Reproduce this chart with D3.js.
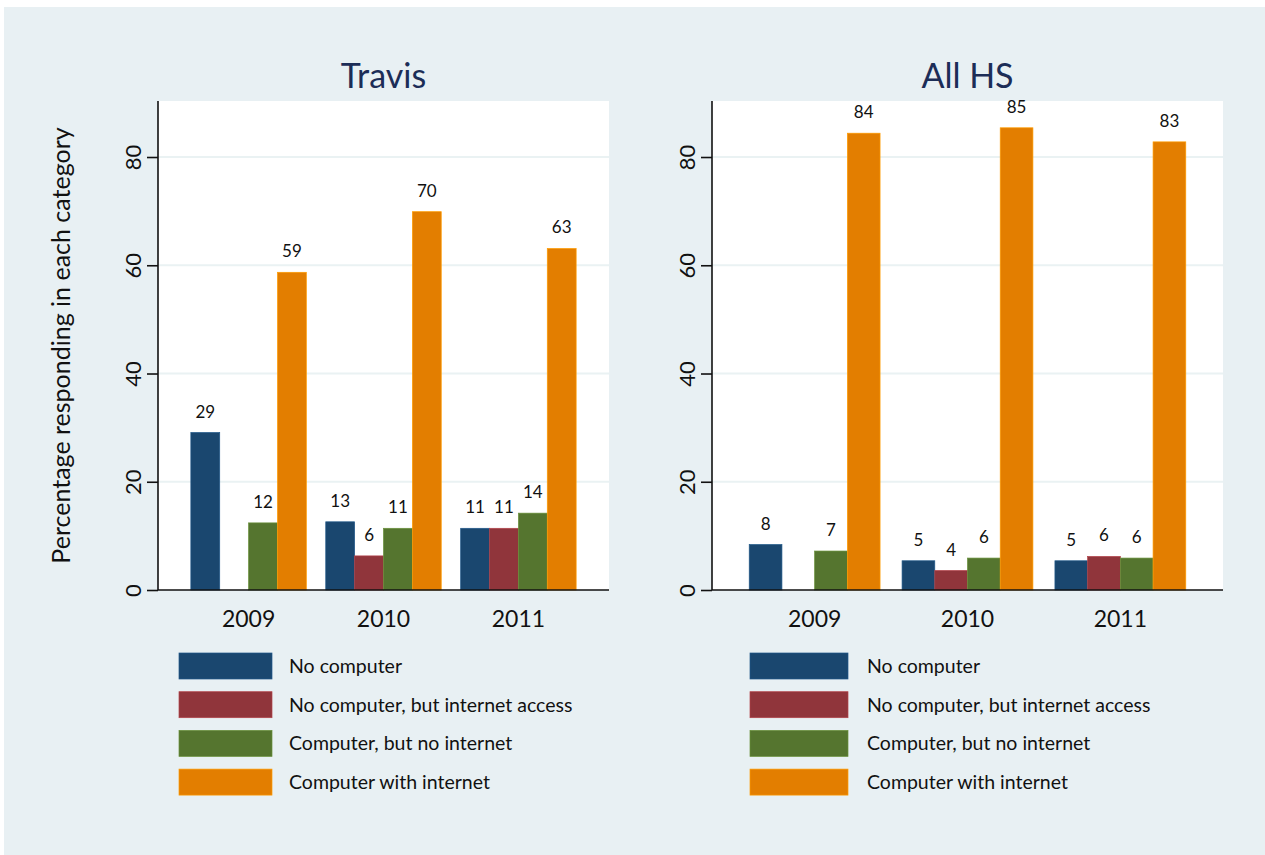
<!DOCTYPE html>
<head>
  <meta charset="utf-8">
  <style>
  body{
    margin:0;
    background:white;
  }
  svg text{
    font-family: Lato, "Open Sans", sans-serif;
  }
  </style>
</head>
<body>
  <svg width="1265" height="855"></svg>
  <script src="https://d3js.org/d3.v7.min.js"></script>
  <script>

  // values (percent)
  var years = ["2009", "2010", "2011"];
  var seriesNames = ["No computer", "No computer, but internet access", "Computer, but no internet", "Computer with internet"];
  var seriesColors = ["#1a476f", "#90353b", "#55752f", "#e37e00"];
  var yTicks = [0, 20, 40, 60, 80];

  var travisNoComp    = [29.1, 12.6, 11.4];
  var travisNoCompNet = [null, 6.3, 11.4];
  var travisCompNoNet = [12.4, 11.4, 14.2];
  var travisCompNet   = [58.7, 69.9, 63.1];

  var allNoComp    = [8.4, 5.4, 5.4];
  var allNoCompNet = [null, 3.6, 6.2];
  var allCompNoNet = [7.2, 5.9, 5.9];
  var allCompNet   = [84.4, 85.4, 82.8];

  var panels = [
    {title: "Travis", x0: 158, x1: 609, legendX: 179, legendW: 93, textX: 289, yTitle: true,
     values: [travisNoComp, travisNoCompNet, travisCompNoNet, travisCompNet]},
    {title: "All HS", x0: 712, x1: 1223, legendX: 750, legendW: 98, textX: 867, yTitle: false,
     values: [allNoComp, allNoCompNet, allCompNoNet, allCompNet]}
  ];

  var svg = d3.select("svg");

  svg.append("rect")
      .attr("x", 4).attr("y", 7)
      .attr("width", 1261).attr("height", 848)
      .attr("fill", "#e8f0f3");

  var y = d3.scaleLinear().domain([0, 90.35]).range([590, 101]);

  panels.forEach(function(p) {
    var g = svg.append("g");

    var x = d3.scaleBand()
        .domain(years)
        .range([p.x0, p.x1])
        .paddingInner(0.144)
        .paddingOuter(0.2435);

    var xs = d3.scaleBand()
        .domain(d3.range(seriesNames.length))
        .range([0, x.bandwidth()]);

    g.append("rect")
        .attr("x", p.x0).attr("y", y.range()[1])
        .attr("width", p.x1 - p.x0).attr("height", y.range()[0] - y.range()[1])
        .attr("fill", "white");

    g.selectAll(".grid")
      .data(yTicks.slice(1))
      .enter().append("line")
        .attr("x1", p.x0).attr("x2", p.x1)
        .attr("y1", function(d) { return y(d); })
        .attr("y2", function(d) { return y(d); })
        .attr("stroke", "#eaf2f3")
        .attr("stroke-width", 2);

    var cells = [];
    p.values.forEach(function(vals, s) {
      vals.forEach(function(v, i) {
        if (v !== null) cells.push({year: years[i], s: s, v: v});
      });
    });

    g.selectAll(".bar")
      .data(cells)
      .enter().append("rect")
        .attr("x", function(d) { return x(d.year) + xs(d.s); })
        .attr("y", function(d) { return y(d.v); })
        .attr("width", xs.bandwidth())
        .attr("height", function(d) { return y(0) - y(d.v); })
        .attr("fill", function(d) { return seriesColors[d.s]; })
        .attr("stroke", function(d) { return d3.color(seriesColors[d.s]).brighter(0.6); })
        .attr("stroke-width", 0.7);

    g.selectAll(".lbl")
      .data(cells)
      .enter().append("text")
        .attr("x", function(d) { return x(d.year) + xs(d.s) + xs.bandwidth() / 2; })
        .attr("y", function(d) { return y(d.v) - 15; })
        .attr("text-anchor", "middle")
        .attr("font-size", 17)
        .attr("fill", "#111")
        .text(function(d) { return Math.round(d.v); });

    // y axis
    var yAxis = g.append("g")
        .attr("transform", "translate(" + p.x0 + ",0)")
        .call(d3.axisLeft(y).tickValues(yTicks).tickSize(11).tickPadding(0).tickFormat(d3.format("d")));
    yAxis.select(".domain").attr("d", "M0," + y.range()[1] + "V" + y.range()[0]).attr("stroke", "#111").attr("stroke-width", 1.6);
    yAxis.selectAll(".tick line").attr("stroke", "#111").attr("stroke-width", 1.6);
    yAxis.selectAll(".tick text")
        .attr("transform", "translate(-25,0) rotate(-90)")
        .attr("x", 0).attr("y", 0)
        .attr("dy", "0.35em")
        .attr("text-anchor", "middle")
        .attr("font-size", 22)
        .attr("fill", "#111");

    // baseline
    g.append("line")
        .attr("x1", p.x0).attr("x2", p.x1)
        .attr("y1", y(0)).attr("y2", y(0))
        .attr("stroke", "#111").attr("stroke-width", 1.6);

    // year labels
    g.selectAll(".year")
      .data(years)
      .enter().append("text")
        .attr("x", function(d) { return x(d) + x.bandwidth() / 2; })
        .attr("y", 627)
        .attr("text-anchor", "middle")
        .attr("font-size", 23)
        .attr("fill", "#111")
        .text(function(d) { return d; });

    // title
    g.append("text")
        .attr("x", (p.x0 + p.x1) / 2)
        .attr("y", 88)
        .attr("text-anchor", "middle")
        .attr("font-size", 34)
        .attr("fill", "#1c2d57")
        .text(p.title);

    if (p.yTitle) {
      g.append("text")
          .attr("transform", "translate(70," + (y.range()[0] + y.range()[1]) / 2 + ") rotate(-90)")
          .attr("text-anchor", "middle")
          .attr("font-size", 25)
          .attr("fill", "#111")
          .text("Percentage responding in each category");
    }

    // legend
    var leg = g.selectAll(".leg")
      .data(seriesNames)
      .enter().append("g")
        .attr("transform", function(d, i) { return "translate(0," + (653 + i * 38.7) + ")"; });
    leg.append("rect")
        .attr("x", p.legendX).attr("width", p.legendW).attr("height", 26)
        .attr("fill", function(d, i) { return seriesColors[i]; })
        .attr("stroke", function(d, i) { return d3.color(seriesColors[i]).brighter(0.6); })
        .attr("stroke-width", 0.7);
    leg.append("text")
        .attr("x", p.textX).attr("y", 13)
        .attr("dy", "0.35em")
        .attr("font-size", 19.5)
        .attr("fill", "#111")
        .text(function(d) { return d; });
  });

  </script>
</body>
